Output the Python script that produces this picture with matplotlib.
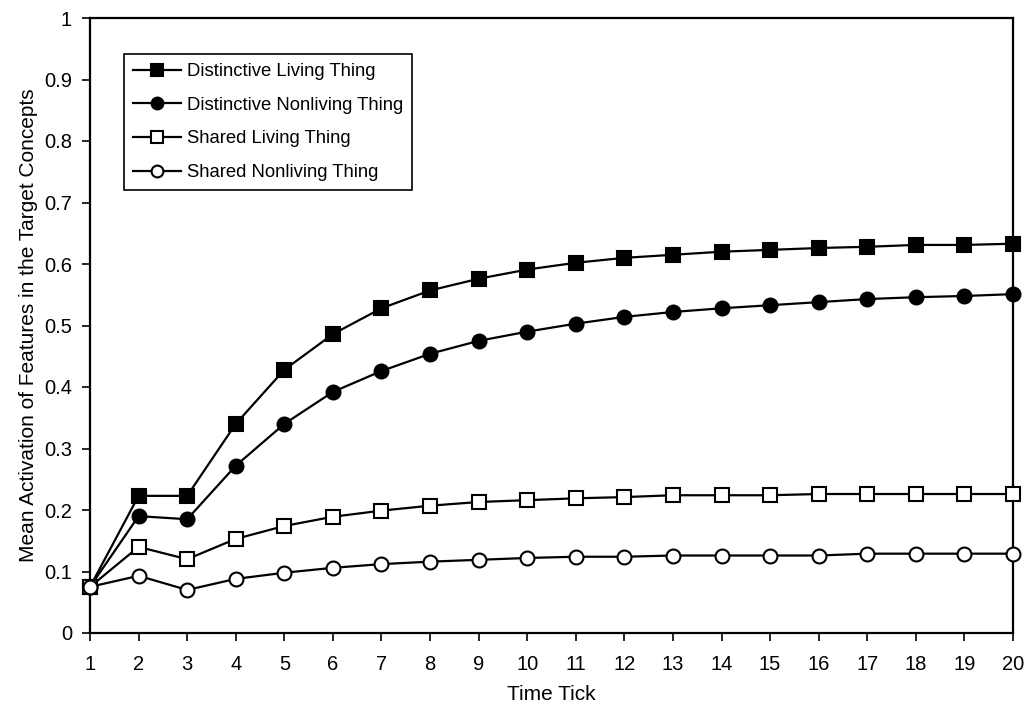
import matplotlib
matplotlib.use("Agg")
import matplotlib.pyplot as plt

plt.rcParams['font.family'] = ['Liberation Sans', 'DejaVu Sans']

ticks = list(range(1, 21))
distinctive_living = [0.075, 0.223, 0.223, 0.340, 0.428, 0.486, 0.528, 0.557, 0.576, 0.591,
                      0.602, 0.610, 0.615, 0.620, 0.623, 0.626, 0.628, 0.631, 0.631, 0.633]
distinctive_nonliving = [0.075, 0.190, 0.185, 0.272, 0.340, 0.392, 0.426, 0.454, 0.475, 0.490,
                         0.503, 0.514, 0.522, 0.528, 0.533, 0.538, 0.543, 0.546, 0.548, 0.551]
shared_living = [0.075, 0.140, 0.120, 0.153, 0.174, 0.189, 0.199, 0.207, 0.213, 0.216,
                 0.219, 0.221, 0.224, 0.224, 0.224, 0.226, 0.226, 0.226, 0.226, 0.226]
shared_nonliving = [0.075, 0.093, 0.070, 0.088, 0.098, 0.106, 0.112, 0.116, 0.119, 0.122,
                    0.124, 0.124, 0.126, 0.126, 0.126, 0.126, 0.129, 0.129, 0.129, 0.129]
labels = ["Distinctive Living Thing", "Distinctive Nonliving Thing",
          "Shared Living Thing", "Shared Nonliving Thing"]

fig = plt.figure(figsize=(10.29, 7.13), dpi=100)
ax = fig.add_axes([90/1029, 1-633/713, (1013-90)/1029, (633-18)/713])

series = [distinctive_living, distinctive_nonliving, shared_living, shared_nonliving]
markers = ['s', 'o', 's', 'o']
faces = ['black', 'black', 'white', 'white']
for vals, m, fc, lab in zip(series, markers, faces, labels):
    ax.plot(ticks, vals, color='black', lw=1.6, marker=m, markersize=10,
            markerfacecolor=fc, markeredgecolor='black', markeredgewidth=1.5,
            label=lab, clip_on=False, zorder=3)

ax.set_xlim(1, 20)
ax.set_ylim(0, 1)
ax.set_xticks(ticks)
ax.set_yticks([i/10 for i in range(11)])
ax.set_yticklabels(['0', '0.1', '0.2', '0.3', '0.4', '0.5', '0.6', '0.7', '0.8', '0.9', '1'])
ax.tick_params(axis='both', direction='out', length=6, width=1.2, labelsize=14.5, colors='black')
ax.tick_params(axis='x', pad=10)
ax.tick_params(axis='y', pad=7)
for s in ax.spines.values():
    s.set_linewidth(1.6)
    s.set_color('black')

ax.set_xlabel('Time Tick', fontsize=15, labelpad=8)
ax.set_ylabel('Mean Activation of Features in the Target Concepts', fontsize=15, labelpad=4)

leg = ax.legend(loc='upper left', bbox_to_anchor=(0.0368, 0.9415), borderaxespad=0,
                fontsize=13.3, frameon=True, fancybox=False, edgecolor='black', framealpha=1,
                handlelength=2.6, handletextpad=0.3, borderpad=0.5, labelspacing=0.9,
                markerscale=0.85)
leg.get_frame().set_linewidth(1.2)

fig.savefig('out.png', dpi=100)
